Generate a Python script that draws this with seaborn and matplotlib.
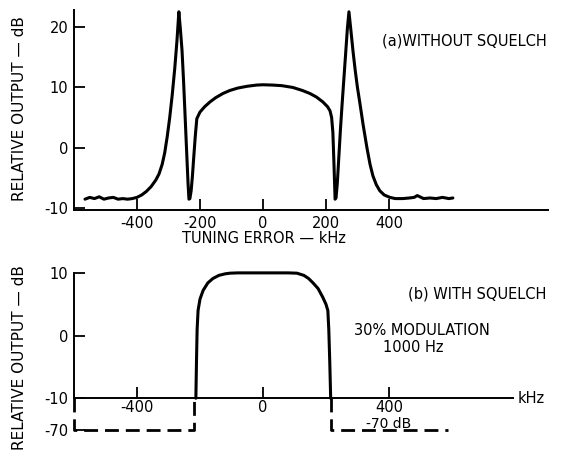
import numpy as np
import pandas as pd
import seaborn as sns
import matplotlib
matplotlib.use("Agg")
import matplotlib.pyplot as plt

# (a) without squelch - relative output (dB) vs tuning error (kHz)
freq_a = [-565, -550, -535, -520, -505, -490, -475, -460, -445, -430, -415,
          -400, -385, -370, -355, -340, -330, -320, -312, -304, -296, -288,
          -280, -273, -267, -262, -257, -252, -247, -242, -238, -235, -232,
          -228, -224, -220, -215, -210, -200, -185, -168, -150, -127, -105,
          -80, -50, -20, 0, 30, 60, 95, 125, 149, 170, 190, 205, 213, 218,
          222, 225, 229, 232, 236, 241, 246, 251, 257, 263, 268, 273, 279,
          286, 293, 300, 308, 318, 330, 340, 349, 360, 371, 385, 403, 420,
          444, 465, 480, 490, 498, 510, 530, 550, 570, 590, 603]
db_a = [-8.6, -8.3, -8.5, -8.2, -8.6, -8.4, -8.3, -8.6, -8.5, -8.6, -8.5,
        -8.3, -7.9, -7.3, -6.5, -5.4, -4.4, -2.8, -0.9, 1.8, 5.0, 8.8,
        13.2, 17.8, 22.6, 19.6, 16.2, 11.0, 5.0, -1.0, -5.8, -8.6, -8.5,
        -7.2, -4.8, -1.8, 1.8, 4.8, 5.9, 6.8, 7.6, 8.3, 9.0, 9.5,
        9.9, 10.2, 10.4, 10.45, 10.4, 10.3, 10.0, 9.5, 9.0, 8.4, 7.6, 6.8, 6.1, 5.0,
        2.5, -2.0, -8.6, -8.4, -6.0, -1.5, 3.0, 7.0, 11.5, 16.0, 19.8, 22.6, 19.6,
        16.0, 12.8, 10.0, 7.3, 3.8, 0.0, -2.8, -4.7, -6.2, -7.2, -7.9, -8.3, -8.5,
        -8.5, -8.4, -8.3, -8.0, -8.2, -8.5, -8.4, -8.5, -8.3, -8.5, -8.4]

# (b) with squelch
freq_b = [-213, -211, -209, -206, -200, -190, -175, -159, -140, -120, -105,
          -80, 0, 80, 108, 130, 145, 159, 175, 190, 200, 206, 209, 212, 215]
db_b = [-10, -4, 1.0, 4.0, 5.8, 7.2, 8.4, 9.1, 9.6, 9.85, 9.95,
        10, 10, 10, 9.95, 9.6, 9.1, 8.4, 7.5, 6.1, 5.0, 4.0, 1.0, -4, -10]

# squelched region (-70 dB), drawn dashed on a compressed axis
sq_left_x = [-600, -600, -219, -219]
sq_left_y = [-10, -70, -70, -10]
sq_right_x = [215, 215, 587]
sq_right_y = [-10, -70, -70]

xticks_a = [-400, -200, 0, 200, 400]
yticks_a = [20, 10, 0, -10]
xticks_b = [-400, 0, 400]
yticks_b = [10, 0, -10, -70]

K = 0.0853  # compression below -10 dB


def fwd(y):
    y = np.asarray(y, dtype=float)
    return np.where(y >= -10, y, -10 + (y + 10) * K)


def inv(v):
    v = np.asarray(v, dtype=float)
    return np.where(v >= -10, v, -10 + (v + 10) / K)


sns.set_style("ticks")
plt.rcParams['font.family'] = ['DejaVu Sans']
plt.rcParams['axes.unicode_minus'] = False
plt.rcParams['axes.linewidth'] = 1.4
plt.rcParams['text.color'] = 'black'
plt.rcParams['xtick.color'] = 'black'
plt.rcParams['ytick.color'] = 'black'
plt.rcParams['axes.edgecolor'] = 'black'

fs = 10.5
fig = plt.figure(figsize=(5.66, 4.58), dpi=100)
fig.patch.set_facecolor('white')

# ---- top panel ----
ax1 = fig.add_axes([0.1307, 0.5415, 0.8375, 0.4367])
sns.lineplot(x=freq_a, y=db_a, ax=ax1, color='black', linewidth=2.2,
             estimator=None, sort=False)
ax1.set_xlim(-600, 905)
ax1.set_ylim(-10.4, 22.9)
ax1.spines['top'].set_visible(False)
ax1.spines['right'].set_visible(False)
ax1.set_xticks(xticks_a)
ax1.set_xticklabels([str(v) for v in xticks_a], fontsize=fs)
ax1.set_yticks(yticks_a)
ax1.set_yticklabels([str(v) for v in yticks_a], fontsize=fs)
ax1.tick_params(direction='in', length=8, width=1.3, colors='black', pad=4)
ax1.text(900, 17.8, '(a)WITHOUT SQUELCH', ha='right', va='center', fontsize=fs)

# ---- bottom panel ----
ax2 = fig.add_axes([0.1307, 0.0546, 0.8375, 0.3537])
ax2.set_yscale('function', functions=(fwd, inv))
sns.lineplot(x=freq_b, y=db_b, ax=ax2, color='black', linewidth=2.2,
             estimator=None, sort=False)
for xs, ys in [(sq_left_x, sq_left_y), (sq_right_x, sq_right_y)]:
    sns.lineplot(x=xs, y=ys, ax=ax2, color='black', linewidth=2.0,
                 estimator=None, sort=False, linestyle=(0, (5, 2.5)),
                 clip_on=False)
ax2.set_xlim(-600, 905)
ax2.set_ylim(-75, 10.3)
ax2.spines['top'].set_visible(False)
ax2.spines['right'].set_visible(False)
ax2.spines['bottom'].set_position(('data', -10))
ax2.spines['bottom'].set_bounds(-600, 795)
ax2.spines['left'].set_bounds(-10, 10)
ax2.set_xticks(xticks_b)
ax2.set_xticklabels([str(v) for v in xticks_b], fontsize=fs)
ax2.set_yticks(yticks_b)
ax2.set_yticklabels([str(v) for v in yticks_b], fontsize=fs)
ax2.yaxis.set_minor_locator(matplotlib.ticker.NullLocator())
ax2.tick_params(direction='in', length=8, width=1.3, colors='black', pad=4)
ax2.tick_params(axis='x', pad=1.5)
ax2.text(810, -10, 'kHz', ha='left', va='center', fontsize=fs)
ax2.text(900, 6.7, '(b) WITH SQUELCH', ha='right', va='center', fontsize=fs)
ax2.text(505, 0.8, '30% MODULATION', ha='center', va='center', fontsize=fs)
ax2.text(476, -1.9, '1000 Hz', ha='center', va='center', fontsize=fs)
ax2.text(400, -59, '-70 dB', ha='center', va='center', fontsize=fs - 0.5)

fig.text(0.466, 0.480, 'TUNING ERROR — kHz', ha='center', va='center', fontsize=fs)
fig.text(0.035, 0.764, 'RELATIVE OUTPUT — dB', rotation=90, ha='center', va='center', fontsize=fs + 0.5)
fig.text(0.035, 0.220, 'RELATIVE OUTPUT — dB', rotation=90, ha='center', va='center', fontsize=fs + 0.5)

fig.savefig('out.png', dpi=100, facecolor='white')
